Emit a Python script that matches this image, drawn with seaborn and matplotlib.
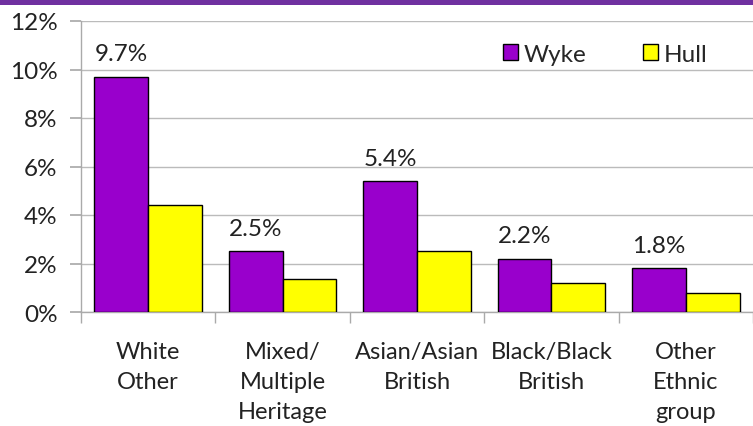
import matplotlib
matplotlib.use("Agg")
import matplotlib.pyplot as plt
import matplotlib.patches as mpatches
import seaborn as sns
import pandas as pd

categories = ["White\nOther", "Mixed/\nMultiple\nHeritage", "Asian/Asian\nBritish",
              "Black/Black\nBritish", "Other\nEthnic\ngroup"]
wyke = [9.7, 2.5, 5.4, 2.2, 1.8]
hull = [4.4, 1.35, 2.5, 1.2, 0.8]
series = ["Wyke", "Hull"]
colors = {"Wyke": "#9900CC", "Hull": "#FFFF00"}
yticks = [0, 2, 4, 6, 8, 10, 12]

df = pd.DataFrame({
    "cat": categories * 2,
    "series": ["Wyke"] * len(categories) + ["Hull"] * len(categories),
    "value": wyke + hull,
})

sns.set_theme(style="white")
plt.rcParams["font.family"] = ["Lato", "DejaVu Sans"]

fig = plt.figure(figsize=(7.53, 4.27), dpi=100)
ax = fig.add_axes([81 / 753, 1 - 313 / 427, 1 - 81 / 753, (313 - 22) / 427])

sns.barplot(data=df, x="cat", y="value", hue="series", hue_order=series,
            palette=colors, order=categories, width=0.8,
            edgecolor="black", linewidth=1, saturation=1, ax=ax, zorder=3)

# value labels above Wyke bars
for i, v in enumerate(wyke):
    ax.annotate(f"{v}%", xy=(i - 0.2, v), xytext=(0, 9), textcoords="offset points",
                ha="center", va="bottom", fontsize=17.5, color="#222222")

ax.set_ylim(0, 12)
ax.set_xlim(-0.5, len(categories) - 0.5)
ax.set_yticks(yticks)
ax.set_yticklabels([f"{t}%" for t in yticks], fontsize=17.5, color="#222222")
ax.yaxis.grid(True, color="#BBBBBB", linewidth=1, zorder=0)
ax.set_axisbelow(True)

ax.set_xticks(range(len(categories)))
ax.set_xticklabels(categories, fontsize=17, color="#222222", linespacing=1.52, va="top")
ax.tick_params(axis="x", length=0, pad=21)
ax.set_xticks([i - 0.5 for i in range(len(categories) + 1)], minor=True)
ax.tick_params(axis="x", which="minor", length=8, color="#AAAAAA", direction="out", bottom=True)
ax.tick_params(axis="y", length=8, color="#AAAAAA", direction="out", left=True, pad=9)

ax.set_xlabel("")
ax.set_ylabel("")
for s in ["top", "right"]:
    ax.spines[s].set_visible(False)
for s in ["left", "bottom"]:
    ax.spines[s].set_color("#AAAAAA")
    ax.spines[s].set_linewidth(1)

handles = [mpatches.Patch(facecolor=colors[s], edgecolor="black", linewidth=1) for s in series]
ax.legend(handles, series, loc="upper left", bbox_to_anchor=(0.606, 0.972), ncol=2,
          frameon=False, fontsize=17.5, handlelength=0.62, handleheight=0.62,
          handletextpad=0.25, columnspacing=2.3, borderaxespad=0.2)

fig.patches.append(mpatches.Rectangle((0, 1 - 6 / 427), 1, 6 / 427, transform=fig.transFigure,
                                      facecolor="#7030A0", edgecolor="none", zorder=10))

fig.savefig("out.png", dpi=100)
